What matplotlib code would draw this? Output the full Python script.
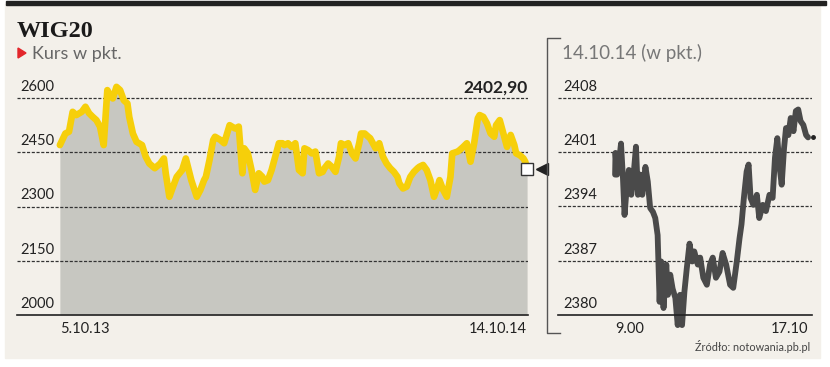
import matplotlib
matplotlib.use('Agg')
import matplotlib.pyplot as plt
import matplotlib.transforms as mtransforms
from matplotlib.patches import Rectangle, Polygon
from matplotlib.lines import Line2D

plt.rcParams['font.family'] = ['Lato', 'DejaVu Sans']

# WIG20, one year of sessions (session number, close)
days = [0,3,5,7,9,12,14,16,18,20,22,24,26,27,29,31,33,35,37,38,40,42,45,47,49,52,55,57,58,60,
        62,64,67,69,72,75,77,79,80,82,84,
        85,88,90,93,96,98,100,101,103,105,107,109,111,112,114,116,118,120,122,123,125,127,129,131,
        133,134,136,138,140,142,144,145,147,149,151,153,154,156,158,160,162,164,165,167,169,
        170,173,175,177,179,181,183,185,186,188,190,192,194,196,197,199,201,203,205,207,208,210,
        212,214,215,218,219,221,223,225,227,229,230,232,234,236,238,239,241,243,245,247,249,250,
        252,254,255,256]
wig = [2470,2502,2507,2562,2553,2562,2576,2558,2548,2539,2521,2470,2622,2613,2599,2631,2622,2594,
       2585,2548,2502,2479,2470,2438,2419,2406,2419,2433,2392,2327,2355,2382,2401,2433,2373,2327,
       2346,2373,2382,2429,2484,
       2493,2484,2475,2525,2516,2521,2392,2461,2447,2401,2346,2392,2382,2369,2373,2401,2438,2475,
       2475,2470,2475,2465,2475,2401,2392,2461,2456,2447,2452,2392,2396,2406,2419,2410,2396,2438,
       2475,2470,2475,2447,2433,2475,2502,2502,2493,
       2489,2461,2475,2438,2419,2406,2396,2382,2364,2350,2355,2382,2396,2406,2410,2415,2401,2373,
       2327,2355,2373,2346,2327,2382,2447,2452,2456,2465,2475,2424,2475,2544,2553,2548,2530,2502,
       2493,2525,2539,2502,2465,2498,2470,2447,2442,2433,2424,2402.9]
date_labels = ['5.10.13', '14.10.14']
ticks_l = [2000, 2150, 2300, 2450, 2600]

# intraday 14.10.14 (minutes after 9:00, value)
mins = [0,1,5,11,15,20,24,30,35,41,47,53,58,64,69,77,83,89,96,102,108,113,117,123,130,134,140,
        146,153,159,165,170,176,182,189,196,201,210,216,224,233,241,248,256,265,273,282,292,
        300,309,316,321,327,334,339,344,351,360,366,375,383,392,400,406,412,417,423,429,434,440,
        446,453,459,465,471,478,485,490]
intra = [2398.1,2400.9,2398.1,2400.2,2402.1,2397.6,2392.9,2396.8,2398.7,2395.5,2398.1,2401.7,
         2395.5,2398.1,2395.5,2399.1,2397.2,2393.8,2393.3,2392.5,2390.3,2381.7,2386.9,2380.9,
         2386.5,2382.6,2385.2,2383.4,2382.2,2378.7,2382.6,2378.7,2383.0,2386.0,2389.2,2386.9,
         2388.2,2386.5,2387.4,2384.8,2383.9,2386.5,2387.4,2384.8,2385.6,2388.0,2386.5,2383.9,
         2383.5,2386.9,2389.9,2391.7,2395.1,2398.5,2399.4,2395.1,2394.2,2395.5,2392.5,2394.2,
         2393.4,2395.5,2395.1,2400.3,2402.8,2399.4,2396.8,2401.5,2404.1,2403.2,2405.4,2403.7,
         2406.3,2406.5,2405.0,2404.5,2403.2,2402.9]
time_labels = ['9.00', '17.10']
ticks_r = [2380, 2387, 2394, 2401, 2408]

W, H = 830, 367
fig = plt.figure(figsize=(W/100, H/100), dpi=100)
fig.patch.set_facecolor('white')

# background panel + top bar
fig.add_artist(Rectangle((5/W, 1-358/H), 815/W, 354/H, transform=fig.transFigure,
                         color='#f3f0ea', zorder=-10))
fig.add_artist(Rectangle((6/W, 1-5/H), 820/W, 4/H, transform=fig.transFigure,
                         color='#222222', zorder=-9))

grid_kw = dict(color='#333333', lw=0.9, ls=(0, (2.5, 1.3)))


def style_axes(ax, ticks):
    ax.set_facecolor('none')
    for s in ['top', 'left', 'right']:
        ax.spines[s].set_visible(False)
    ax.spines['bottom'].set_color('#222222')
    ax.spines['bottom'].set_linewidth(1.2)
    ax.set_yticks(ticks)
    ax.set_yticklabels([])
    ax.tick_params(axis='y', length=0)
    ax.tick_params(axis='x', length=0, pad=5, labelsize=10.5, colors='#222222')
    for t in ticks[1:]:
        ax.axhline(t, zorder=1, **grid_kw)


# left: one year
ax1 = fig.add_axes([17/W, 52/H, 511/W, 235/H])
style_axes(ax1, ticks_l)
ax1.set_xlim(-23.5, 256.5)
ax1.set_ylim(2000, 2650)
ax1.fill_between(days, wig, 2000, color='#c7c7c1', lw=0, zorder=0)
ax1.plot(days, wig, color='#f6cf0a', lw=4.8, solid_joinstyle='round', solid_capstyle='round',
         zorder=2, clip_on=False)
for t in ticks_l:
    ax1.annotate(str(t), xy=(0.006, t), xycoords=ax1.get_yaxis_transform(), xytext=(0, 3),
                 textcoords='offset points', ha='left', va='bottom', fontsize=10.5, color='#222222')
ax1.set_xticks([days[0], days[-1]])
ax1.set_xticklabels(date_labels)
for lab, ha in zip(ax1.get_xticklabels(), ['left', 'right']):
    lab.set_ha(ha)
ax1.plot(days[-1], wig[-1], marker='s', ms=9, mfc='white', mec='#333333', mew=1,
         clip_on=False, zorder=5)
tri = mtransforms.offset_copy(ax1.transData, fig=fig, x=11, y=0, units='points')
ax1.plot(days[-1], wig[-1], marker='<', ms=9, color='#222222', transform=tri,
         clip_on=False, zorder=5)
ax1.text(1.0, 1.0, f'{wig[-1]:.2f}'.replace('.', ','), transform=ax1.transAxes,
         ha='right', va='top', fontsize=12.5, fontweight='bold', color='#222222')

# right: intraday
ax2 = fig.add_axes([558/W, 52/H, 254/W, 235/H])
style_axes(ax2, ticks_r)
ax2.set_xlim(-145, 500)
ax2.set_ylim(2380, 2410.3)
ax2.plot(mins, intra, color='#4a4a4a', lw=4.2, solid_joinstyle='round', solid_capstyle='round',
         zorder=2, clip_on=False)
ax2.plot(mins[-1] + 12, intra[-1], marker='o', ms=2.5, color='#222222', clip_on=False)
for t in ticks_r:
    ax2.annotate(str(t), xy=(0.02, t), xycoords=ax2.get_yaxis_transform(), xytext=(0, 3),
                 textcoords='offset points', ha='left', va='bottom', fontsize=10.5, color='#222222')
ax2.set_xticks([mins[0], mins[-1]])
ax2.set_xticklabels(time_labels)
for lab, ha in zip(ax2.get_xticklabels(), ['left', 'right']):
    lab.set_ha(ha)

# bracket between panels
fig.add_artist(Line2D([560/W, 547/W, 547/W, 560/W], [1-38/H, 1-38/H, 1-333/H, 1-333/H],
                      transform=fig.transFigure, color='#555555', lw=1))

# titles
fig.text(17/W, 1-37/H, 'WIG20', family='Liberation Serif', fontweight='bold', fontsize=17.5,
         color='#1a1a1a', va='baseline')
fig.add_artist(Polygon([[18/W, 1-48/H], [18/W, 1-58/H], [26/W, 1-53/H]],
                       transform=fig.transFigure, color='#e3262b'))
fig.text(32/W, 1-59/H, 'Kurs w pkt.', fontsize=13, color='#666666', va='baseline')
fig.text(562/W, 1-59/H, '14.10.14 (w pkt.)', fontsize=13.5, color='#777777', va='baseline')
fig.text(810/W, 1-351/H, 'Źródło: notowania.pb.pl', fontsize=7.8, color='#444444',
         ha='right', va='baseline')

fig.savefig('out.png', dpi=100, facecolor=fig.get_facecolor())
